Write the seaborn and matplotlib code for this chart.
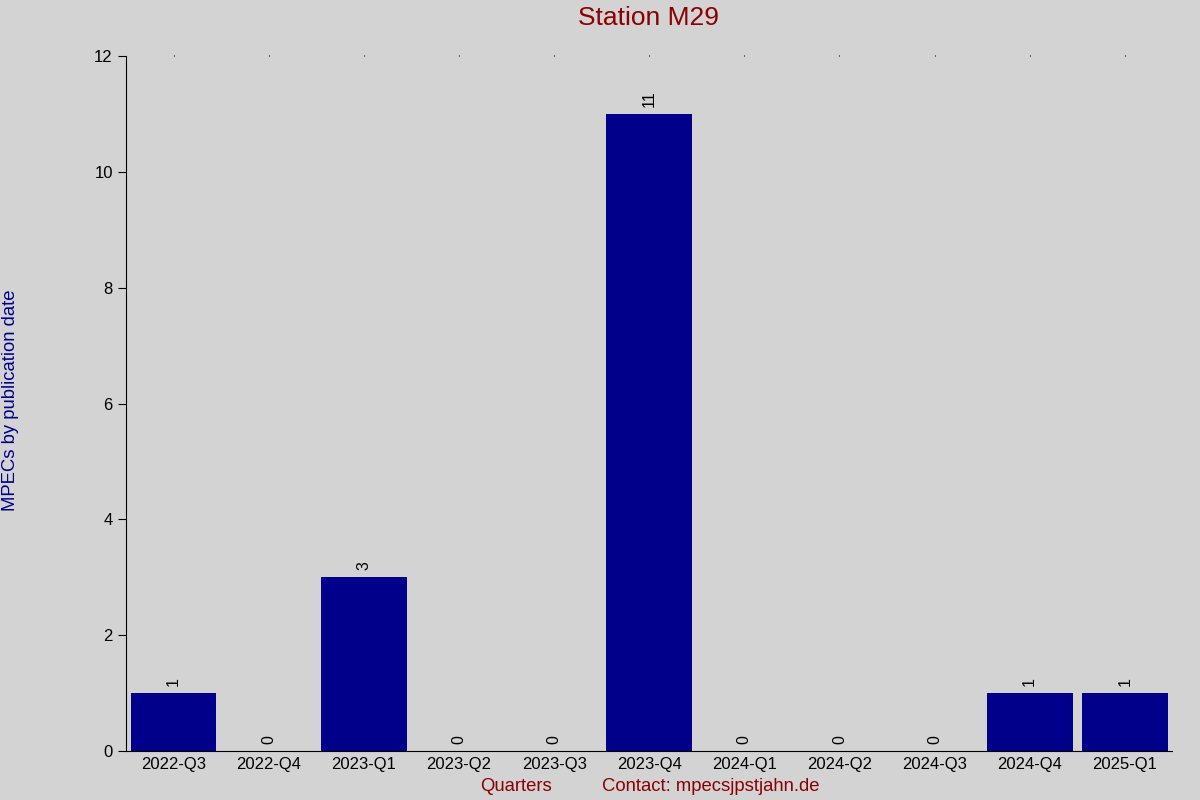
import matplotlib
matplotlib.use("Agg")
import matplotlib.pyplot as plt
import seaborn as sns
import pandas as pd

quarters = ["2022-Q3", "2022-Q4", "2023-Q1", "2023-Q2", "2023-Q3", "2023-Q4",
            "2024-Q1", "2024-Q2", "2024-Q3", "2024-Q4", "2025-Q1"]
counts = [1, 0, 3, 0, 0, 11, 0, 0, 0, 1, 1]

sns.set_style("white")
plt.rcParams['font.family'] = ['Liberation Sans', 'DejaVu Sans']

df = pd.DataFrame({"Quarter": quarters, "Count": counts})

fig = plt.figure(figsize=(12, 8), dpi=100, facecolor="lightgray")
ax = fig.add_axes([0.105, 0.061, 0.872, 0.869])
ax.set_facecolor("lightgray")

sns.barplot(data=df, x="Quarter", y="Count", color="darkblue", saturation=1,
            width=0.9, linewidth=0, ax=ax)

for i, v in enumerate(counts):
    ax.text(i, v + 0.12, str(v), rotation=90, ha="center", va="bottom",
            fontsize=11.5, color="black")

ax.set_xlim(-0.5, 10.5)
ax.set_ylim(0, 12)
ax.set_yticks(range(0, 13, 2))

for s in ["top", "right"]:
    ax.spines[s].set_visible(False)
ax.spines["left"].set_color("black")
ax.spines["bottom"].set_color("black")

ax.tick_params(axis="y", direction="out", length=6, left=True, labelsize=12,
               color="black", labelcolor="black")
ax.tick_params(axis="x", bottom=False, top=True, length=1, labelsize=12,
               color="black", labelcolor="black")

ax.set_xlabel("")
ax.set_ylabel("")
fig.text(0.54, 0.978, "Station M29", color="darkred", fontsize=19,
         ha="center", va="center")

fig.text(0.009, 0.5, "MPECs by publication date", rotation=90, color="darkblue",
         fontsize=13.3, ha="center", va="center")
fig.text(0.43, 0.017, "Quarters", color="darkred", fontsize=13.3, ha="center", va="center")
fig.text(0.592, 0.017, "Contact: mpecsjpstjahn.de", color="darkred", fontsize=13.3,
         ha="center", va="center")

plt.savefig("out.png", dpi=100, facecolor="lightgray")
